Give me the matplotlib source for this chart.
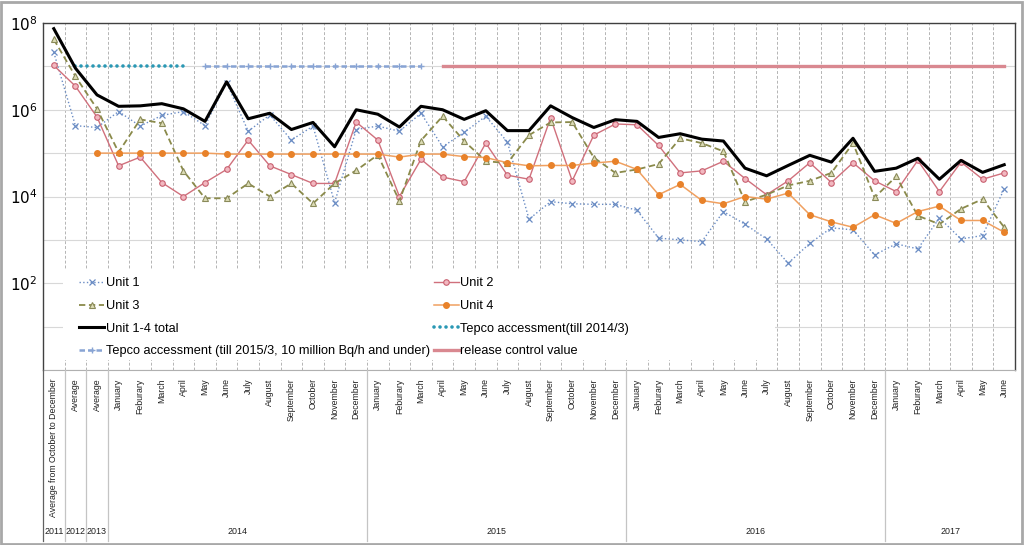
import numpy as np
import matplotlib
matplotlib.use("Agg")
import matplotlib.pyplot as plt
from matplotlib.lines import Line2D
from matplotlib.patches import Rectangle
import matplotlib.transforms as mtransforms

months = ["January", "Feburary", "March", "April", "May", "June", "July",
          "August", "September", "October", "November", "December"]
categories = (["Average from October to December", "Average", "Average"]
              + months * 3 + months[:6])
years = ["2011", "2012", "2013", "2014", "2015", "2016", "2017"]
year_spans = [(0, 0), (1, 1), (2, 2), (3, 14), (15, 26), (27, 38), (39, 44)]

unit1 = [2.1e7, 4.3e5, 3.9e5, 9.1e5, 4.2e5, 7.4e5, 9.1e5, 4.3e5, 4.2e6, 3.2e5,
         7.6e5, 2.0e5, 4.2e5, 7.2e3, 3.5e5, 4.2e5, 3.2e5, 8.3e5, 1.4e5, 3.0e5,
         7.1e5, 1.8e5, 3.0e3, 7.6e3, 6.8e3, 6.6e3, 6.6e3, 4.8e3, 1.1e3, 1.0e3,
         9.1e2, 4.5e3, 2.3e3, 1.05e3, 2.9e2, 8.3e2, 1.9e3, 1.7e3, 4.5e2, 8.1e2,
         6.2e2, 3.2e3, 1.05e3, 1.26e3, 1.5e4]
unit2 = [1.05e7, 3.5e6, 6.8e5, 5.1e4, 8.1e4, 2.1e4, 1.0e4, 2.1e4, 4.2e4, 2.0e5,
         5.1e4, 3.2e4, 2.0e4, 2.0e4, 5.2e5, 2.0e5, 1.0e4, 7.2e4, 2.8e4, 2.2e4,
         1.7e5, 3.1e4, 2.5e4, 6.5e5, 2.3e4, 2.6e5, 4.7e5, 4.5e5, 1.5e5, 3.5e4,
         3.9e4, 6.5e4, 2.6e4, 1.1e4, 2.3e4, 6.0e4, 2.1e4, 6.0e4, 2.3e4, 1.3e4,
         6.8e4, 1.3e4, 6.2e4, 2.5e4, 3.5e4]
unit3 = [4.2e7, 5.9e6, 1.05e6, 1.05e5, 6.0e5, 4.9e5, 3.9e4, 9.1e3, 9.1e3, 2.0e4,
         1.0e4, 2.0e4, 6.9e3, 2.0e4, 4.0e4, 9.1e4, 7.9e3, 1.95e5, 7.1e5, 1.9e5,
         6.5e4, 5.9e4, 2.6e5, 5.1e5, 5.2e5, 7.9e4, 3.5e4, 4.2e4, 5.6e4, 2.2e5,
         1.7e5, 1.1e5, 7.6e3, 1.1e4, 1.8e4, 2.3e4, 3.5e4, 1.7e5, 9.5e3, 2.9e4,
         3.6e3, 2.3e3, 5.2e3, 8.7e3, 1.95e3]
unit4 = [np.nan, np.nan, 1.0e5, 1.0e5, 1.0e5, 1.0e5, 1.0e5, 1.0e5, 9.5e4, 9.5e4,
         9.5e4, 9.5e4, 9.5e4, 9.5e4, 9.5e4, 9.5e4, 8.1e4, 9.5e4, 9.5e4, 8.3e4,
         7.9e4, 6.0e4, 5.1e4, 5.2e4, 5.2e4, 5.9e4, 6.5e4, 4.2e4, 1.1e4, 1.9e4,
         8.1e3, 6.8e3, 1.0e4, 8.7e3, 1.2e4, 3.8e3, 2.6e3, 1.95e3, 3.8e3, 2.4e3,
         4.5e3, 6.0e3, 2.8e3, 2.8e3, 1.5e3]
total = [7.4e7, 9.1e6, 2.2e6, 1.2e6, 1.23e6, 1.38e6, 1.05e6, 5.4e5, 4.4e6, 6.2e5,
         8.3e5, 3.5e5, 5.1e5, 1.4e5, 1.0e6, 7.9e5, 4.0e5, 1.2e6, 1.0e6, 6.0e5,
         9.5e5, 3.3e5, 3.3e5, 1.23e6, 6.6e5, 3.9e5, 5.9e5, 5.4e5, 2.3e5, 2.8e5,
         2.1e5, 1.9e5, 4.5e4, 3.0e4, 5.2e4, 8.9e4, 6.2e4, 2.2e5, 3.8e4, 4.5e4,
         7.6e4, 2.5e4, 6.8e4, 3.6e4, 5.4e4]

tepco_2014_idx = [1, 2, 3, 4, 5, 6]
tepco_2014_val = [1e7] * len(tepco_2014_idx)
tepco_2015_idx = list(range(7, 18))
tepco_2015_val = [1e7] * len(tepco_2015_idx)
release_idx = list(range(18, 45))
release_val = [1e7] * len(release_idx)

labels = ["Unit 1", "Unit 2", "Unit 3", "Unit 4", "Unit 1-4 total",
          "Tepco accessment(till 2014/3)",
          "Tepco accessment (till 2015/3, 10 million Bq/h and under)",
          "release control value"]

plt.rcParams['font.family'] = ['Liberation Sans', 'DejaVu Sans']

W, H = 1024, 545
fig = plt.figure(figsize=(W / 100, H / 100), dpi=100)
ax_l, ax_r, ax_t, ax_b = 43, 1015, 23, 370
ax = fig.add_axes([ax_l / W, 1 - ax_b / H, (ax_r - ax_l) / W, (ax_b - ax_t) / H])
aw, ah = ax_r - ax_l, ax_b - ax_t

x = np.arange(len(categories))
c1, c2, c3, c4 = '#6a8cc4', '#d0707c', '#8a8a4a', '#f0a060'

h1, = ax.plot(x, unit1, color=c1, ls=':', lw=1.0, marker='x', ms=4,
              mec=c1, mew=0.9, zorder=4)
h2, = ax.plot(x, unit2, color=c2, ls='-', lw=1.0, marker='o', ms=4,
              mfc='#f2b8c0', mec='#c86070', mew=0.8, zorder=4)
h3, = ax.plot(x, unit3, color=c3, ls=(0, (3.5, 2)), lw=1.3, marker='^', ms=5,
              mfc='#dcdcb4', mec='#8a8a5a', mew=0.8, zorder=4)
h4, = ax.plot(x, unit4, color=c4, ls='-', lw=1.1, marker='o', ms=4,
              mfc='#e8822a', mec='#e8822a', zorder=4)
h5, = ax.plot(x, total, color='black', lw=2.2, zorder=5)
h6, = ax.plot(tepco_2014_idx, tepco_2014_val, color='#2a98b4', lw=2.6,
              ls=(0, (0.01, 1.65)), dash_capstyle='round', zorder=3)
h7, = ax.plot(tepco_2015_idx, tepco_2015_val, color='#88a4d4', lw=1.8,
              ls=(0, (2.2, 1.2)), marker='+', ms=5, mew=1.0, zorder=3)
h8, = ax.plot(release_idx, release_val, color='#d98890', lw=2.4, zorder=3)

ax.set_yscale('log')
ax.set_ylim(1, 1e8)
ax.set_xlim(-0.5, len(categories) - 0.5)

ax.set_yticks([10.0 ** k for k in range(0, 9)])
ax.set_yticklabels(['' if k % 2 or k == 0 else r'$10^{%d}$' % k for k in range(0, 9)],
                   fontsize=11)
ax.yaxis.set_minor_locator(matplotlib.ticker.NullLocator())
ax.tick_params(axis='y', length=0, pad=4)
ax.grid(axis='y', which='major', color='#d8d8d8', lw=0.8, zorder=0)

ax.set_xticks(x)
ax.set_xticklabels(categories, rotation=90, fontsize=6.3, va='top', ha='center',
                   color='#202020')
ax.tick_params(axis='x', length=0, pad=6)
for b in np.arange(0.5, len(categories) - 0.5, 1.0):
    ax.axvline(b, color='#b4b4b4', lw=0.7, ls=(0, (3, 2)), zorder=1)

for s in ['top', 'right', 'left']:
    ax.spines[s].set_color('#404040')
    ax.spines[s].set_linewidth(1.0)
ax.spines['bottom'].set_color('#b0b0b0')
ax.spines['bottom'].set_linewidth(0.8)

# white legend area covering the grid
ax.add_patch(Rectangle(((63 - ax_l) / aw, (ax_b - 360) / ah),
                       (775 - 63) / aw, 90 / ah, transform=ax.transAxes,
                       facecolor='white', edgecolor='none', zorder=2))

# year row and separators below the axis
trans = mtransforms.blended_transform_factory(ax.transData, fig.transFigure)
y_top = 1 - ax_b / H
y_bot = 1 - 541 / H
seps = [-0.5] + [s[1] + 0.5 for s in year_spans[:-1]]
for sx in seps:
    fig.add_artist(Line2D([sx, sx], [y_top, y_bot], transform=trans,
                          color='#c4c4c4' if sx > -0.5 else '#606060', lw=0.9))
for yr, (a, b) in zip(years, year_spans):
    fig.text((a + b) / 2, 1 - 531 / H, yr, transform=trans, ha='center',
             va='center', fontsize=6.4, color='#202020')

# legend
order = [h1, h3, h5, h7, h2, h4, h6, h8]
order_lab = [labels[0], labels[2], labels[4], labels[6],
             labels[1], labels[3], labels[5], labels[7]]
leg = ax.legend(order, order_lab, ncol=2, loc='upper left',
                bbox_to_anchor=((75 - ax_l) / aw, (ax_b - 273) / ah),
                borderaxespad=0, frameon=False, handlelength=1.9,
                handletextpad=0.15, columnspacing=0.35, labelspacing=0.83,
                borderpad=0.35,
                prop={'family': ['Liberation Sans', 'DejaVu Sans'], 'size': 9.2})
leg.set_zorder(6)

fig.add_artist(Rectangle((0.001, 0.002), 0.997, 0.995, transform=fig.transFigure,
                         fill=False, edgecolor='#a8a8a8', lw=2))

fig.savefig('out.png', dpi=100)
